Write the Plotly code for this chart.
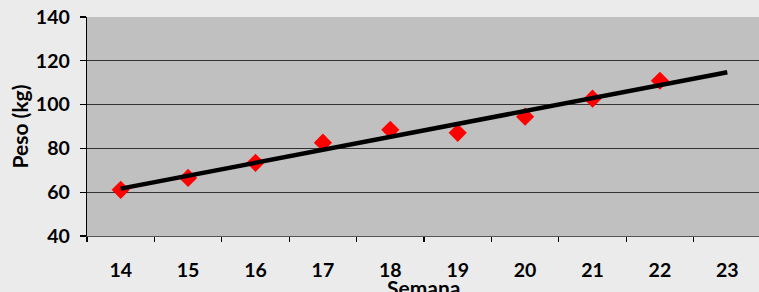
import numpy as np
import plotly.graph_objects as go

semanas = ["14", "15", "16", "17", "18", "19", "20", "21", "22", "23"]
peso = [61.1, 66.5, 73.4, 82.6, 88.5, 87.1, 94.5, 102.7, 110.9]
y_ticks = [40, 60, 80, 100, 120, 140]

# linear trendline (least squares) over the observed weeks, extended to the last category
xi = np.arange(len(peso))
slope, inter = np.polyfit(xi, peso, 1)
trend_x = [semanas[0], semanas[-1]]
trend_y = [inter, inter + slope * (len(semanas) - 1)]

font_family = "Lato, 'Open Sans', sans-serif"
fsize = 19.5
title_size = 21

fig = go.Figure()
fig.add_trace(go.Scatter(
    x=semanas[:len(peso)], y=peso, mode="markers",
    marker=dict(symbol="diamond", size=14, color="#FF0000", line=dict(width=0)),
    showlegend=False, cliponaxis=False, hoverinfo="skip",
))
fig.add_trace(go.Scatter(
    x=trend_x, y=trend_y, mode="lines",
    line=dict(color="#000000", width=4.5),
    showlegend=False, hoverinfo="skip",
))

fig.update_layout(
    width=759, height=292,
    margin=dict(l=87, r=0, t=17, b=56),
    paper_bgcolor="#EBEBEB",
    plot_bgcolor="#C0C0C0",
    font=dict(family=font_family, size=fsize, color="#000000"),
    xaxis=dict(
        type="category", categoryorder="array", categoryarray=semanas,
        range=[-0.5, 9.47],
        tickson="boundaries", ticks="outside", ticklen=5, tickwidth=1.3,
        tickcolor="#000000",
        showline=True, linecolor="#555555", linewidth=1.3,
        showgrid=False, zeroline=False,
        tickfont=dict(family=font_family, size=fsize, color="#000000", weight="bold"),
        ticklabelstandoff=16,
    ),
    yaxis=dict(
        range=[40, 140], tickvals=y_ticks,
        ticks="outside", ticklen=6, tickwidth=1.3, tickcolor="#000000",
        showline=True, linecolor="#000000", linewidth=1.3,
        showgrid=True, gridcolor="#333333", gridwidth=1.2,
        zeroline=False,
        tickfont=dict(family=font_family, size=fsize, color="#000000", weight="bold"),
        ticklabelstandoff=6,
    ),
    annotations=[
        dict(text="<b>Peso (kg)</b>", xref="paper", yref="paper", x=0, y=0.5,
             xanchor="center", yanchor="middle", xshift=-68, textangle=-90,
             showarrow=False, font=dict(family=font_family, size=title_size, color="#000000")),
        dict(text="<b>Semana</b>", xref="paper", yref="paper", x=0.5, y=0,
             xanchor="center", yanchor="top", yshift=-37,
             showarrow=False, font=dict(family=font_family, size=title_size, color="#000000")),
    ],
)

fig.write_html(
    "out.html",
    config={"displayModeBar": False, "staticPlot": True},
    post_script="document.body.style.margin='0';"
                "document.documentElement.style.overflow='hidden';"
                "document.body.style.overflow='hidden';",
)
